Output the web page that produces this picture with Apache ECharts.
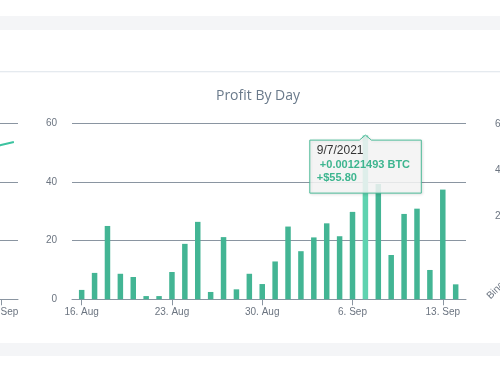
<!DOCTYPE html>
<html>
<head>
<meta charset="utf-8">
<script src="https://cdn.jsdelivr.net/npm/echarts@6/dist/echarts.min.js"></script>
<style>
html,body{margin:0;padding:0;background:#fff;}
#c{width:500px;height:367px;}
</style>
</head>
<body>
<div id="c"></div>
<script>
// ---- data ----
const dayLabels = ['16. Aug','17. Aug','18. Aug','19. Aug','20. Aug','21. Aug','22. Aug','23. Aug','24. Aug','25. Aug','26. Aug','27. Aug','28. Aug','29. Aug','30. Aug','31. Aug','1. Sep','2. Sep','3. Sep','4. Sep','5. Sep','6. Sep','7. Sep','8. Sep','9. Sep','10. Sep','11. Sep','12. Sep','13. Sep','14. Sep'];
const profitUsd = [3.2, 9.0, 25.0, 8.7, 7.6, 1.1, 1.1, 9.3, 18.9, 26.4, 2.5, 21.2, 3.4, 8.7, 5.2, 12.9, 24.8, 16.4, 21.1, 25.9, 21.5, 29.8, 55.8, 39.3, 15.1, 29.1, 30.9, 10.0, 37.4, 5.1];
const tickDays = [0, 7, 14, 21, 28];
const yTicks = [0, 20, 40, 60];
const highlightIndex = 22;
const tipDate = '9/7/2021';
const tipBtc = ' +0.00121493 BTC';
const tipUsd = '+$55.80';
// partial neighbouring charts (cut by the page edges)
const leftDays = [27, 28, 29];
const leftCumulative = [51.5, 52.6, 53.6];
const leftTickDays = [28];
const rightCategories = ['Binance', 'Kraken', 'Coinbase'];
const rightYTicks = [0, 20, 40, 60];

// ---- style ----
const axisColor = '#8a95a1';
const labelColor = '#6b7480';
const font = 'Liberation Sans, Arial, sans-serif';
const barColor = '#43b594';
const barHover = '#5fd3b0';

const chart = echarts.init(document.getElementById('c'));

const yMax = yTicks[yTicks.length - 1];
const yStep = yTicks[1] - yTicks[0];

const option = {
  animation: false,
  backgroundColor: '#fff',
  grid: [
    {left: 72, width: 394, top: 123.3, height: 176, outerBoundsMode: 'none', containLabel: false},
    {left: 0, width: 18, top: 123.3, height: 176, outerBoundsMode: 'none', containLabel: false},
    {left: 514, width: 200, top: 124, height: 138, outerBoundsMode: 'none', containLabel: false}
  ],
  xAxis: [
    {
      type: 'value', gridIndex: 0, min: -0.75, max: 29.8,
      axisLine: {show: true, lineStyle: {color: axisColor, width: 1}},
      axisTick: {show: true, customValues: tickDays, length: 6, lineStyle: {color: axisColor}},
      axisLabel: {customValues: tickDays, formatter: v => dayLabels[v], margin: 8, color: labelColor, fontSize: 10, fontFamily: font},
      splitLine: {show: false}
    },
    {
      type: 'value', gridIndex: 1, min: 27.92, max: 29.32,
      axisLine: {show: true, lineStyle: {color: axisColor, width: 1}},
      axisTick: {show: true, customValues: leftTickDays, length: 6, lineStyle: {color: axisColor}},
      axisLabel: {customValues: leftTickDays, formatter: v => dayLabels[v], margin: 8, color: labelColor, fontSize: 10, fontFamily: font, showMinLabel: true},
      splitLine: {show: false}
    },
    {
      type: 'category', gridIndex: 2, data: rightCategories, boundaryGap: false,
      axisLine: {show: false}, axisTick: {show: false},
      axisLabel: {rotate: 45, margin: 10, color: labelColor, fontSize: 10, fontFamily: font}
    }
  ],
  yAxis: [
    {
      type: 'value', gridIndex: 0, min: 0, max: yMax, interval: yStep,
      axisLine: {show: false}, axisTick: {show: false},
      axisLabel: {margin: 15, color: labelColor, fontSize: 10, fontFamily: font},
      splitLine: {lineStyle: {color: axisColor, width: 1}}
    },
    {
      type: 'value', gridIndex: 1, min: 0, max: yMax, interval: yStep,
      axisLine: {show: false}, axisTick: {show: false},
      axisLabel: {show: false},
      splitLine: {lineStyle: {color: axisColor, width: 1}}
    },
    {
      type: 'value', gridIndex: 2, min: 0, max: rightYTicks[rightYTicks.length - 1], interval: rightYTicks[1] - rightYTicks[0],
      axisLine: {show: false}, axisTick: {show: false},
      axisLabel: {margin: 8, color: labelColor, fontSize: 10, fontFamily: font},
      splitLine: {lineStyle: {color: axisColor, width: 1}}
    }
  ],
  series: [
    {
      type: 'bar', xAxisIndex: 0, yAxisIndex: 0, barWidth: 5.5,
      itemStyle: {color: barColor},
      data: profitUsd.map((v, i) => i === highlightIndex ? {value: [i, v], itemStyle: {color: barHover}} : [i, v])
    },
    {
      type: 'line', xAxisIndex: 1, yAxisIndex: 1, smooth: true, showSymbol: false, clip: true,
      lineStyle: {color: '#3cc3a0', width: 2},
      data: leftDays.map((d, i) => [d, leftCumulative[i]])
    }
  ]
};
chart.setOption(option);

const p = chart.convertToPixel({seriesIndex: 0}, [highlightIndex, profitUsd[highlightIndex]]);
const L = p[0] - 55.6, T = p[1] + 4.5, W = 111.5, H = 53;

chart.setOption({
  graphic: [
    {type: 'rect', z: -10, shape: {x: 0, y: 16, width: 500, height: 14}, style: {fill: '#f4f5f7'}},
    {type: 'rect', z: -10, shape: {x: 0, y: 71.2, width: 500, height: 1}, style: {fill: '#dde3ea'}},
    {type: 'rect', z: -10, shape: {x: 0, y: 343, width: 500, height: 13}, style: {fill: '#f4f5f7'}},
    {type: 'text', x: 258, y: 96, z: 10, style: {text: 'Profit By Day', textAlign: 'center', textVerticalAlign: 'middle', fill: '#6a7a8b', font: '14px "Open Sans", sans-serif'}},
    {
      type: 'polygon', z: 100,
      shape: {points: [[L, T], [p[0] - 6, T], [p[0], T - 5], [p[0] + 6, T], [L + W, T], [L + W, T + H], [L, T + H]]},
      style: {fill: 'rgba(247,247,247,0.85)', stroke: '#4cbb98', lineWidth: 1, shadowColor: 'rgba(0,0,0,0.12)', shadowBlur: 3, shadowOffsetX: 1, shadowOffsetY: 1}
    },
    {type: 'text', z: 101, x: L + 7, y: T + 11, style: {text: tipDate, textVerticalAlign: 'middle', fill: '#333', font: '12px "Liberation Sans", Arial, sans-serif'}},
    {type: 'text', z: 101, x: L + 7, y: T + 25, style: {text: tipBtc, textVerticalAlign: 'middle', fill: '#3db58f', font: 'bold 11px "Liberation Sans", Arial, sans-serif'}},
    {type: 'text', z: 101, x: L + 7, y: T + 37.5, style: {text: tipUsd, textVerticalAlign: 'middle', fill: '#3db58f', font: 'bold 11px "Liberation Sans", Arial, sans-serif'}}
  ]
});
</script>
</body>
</html>
